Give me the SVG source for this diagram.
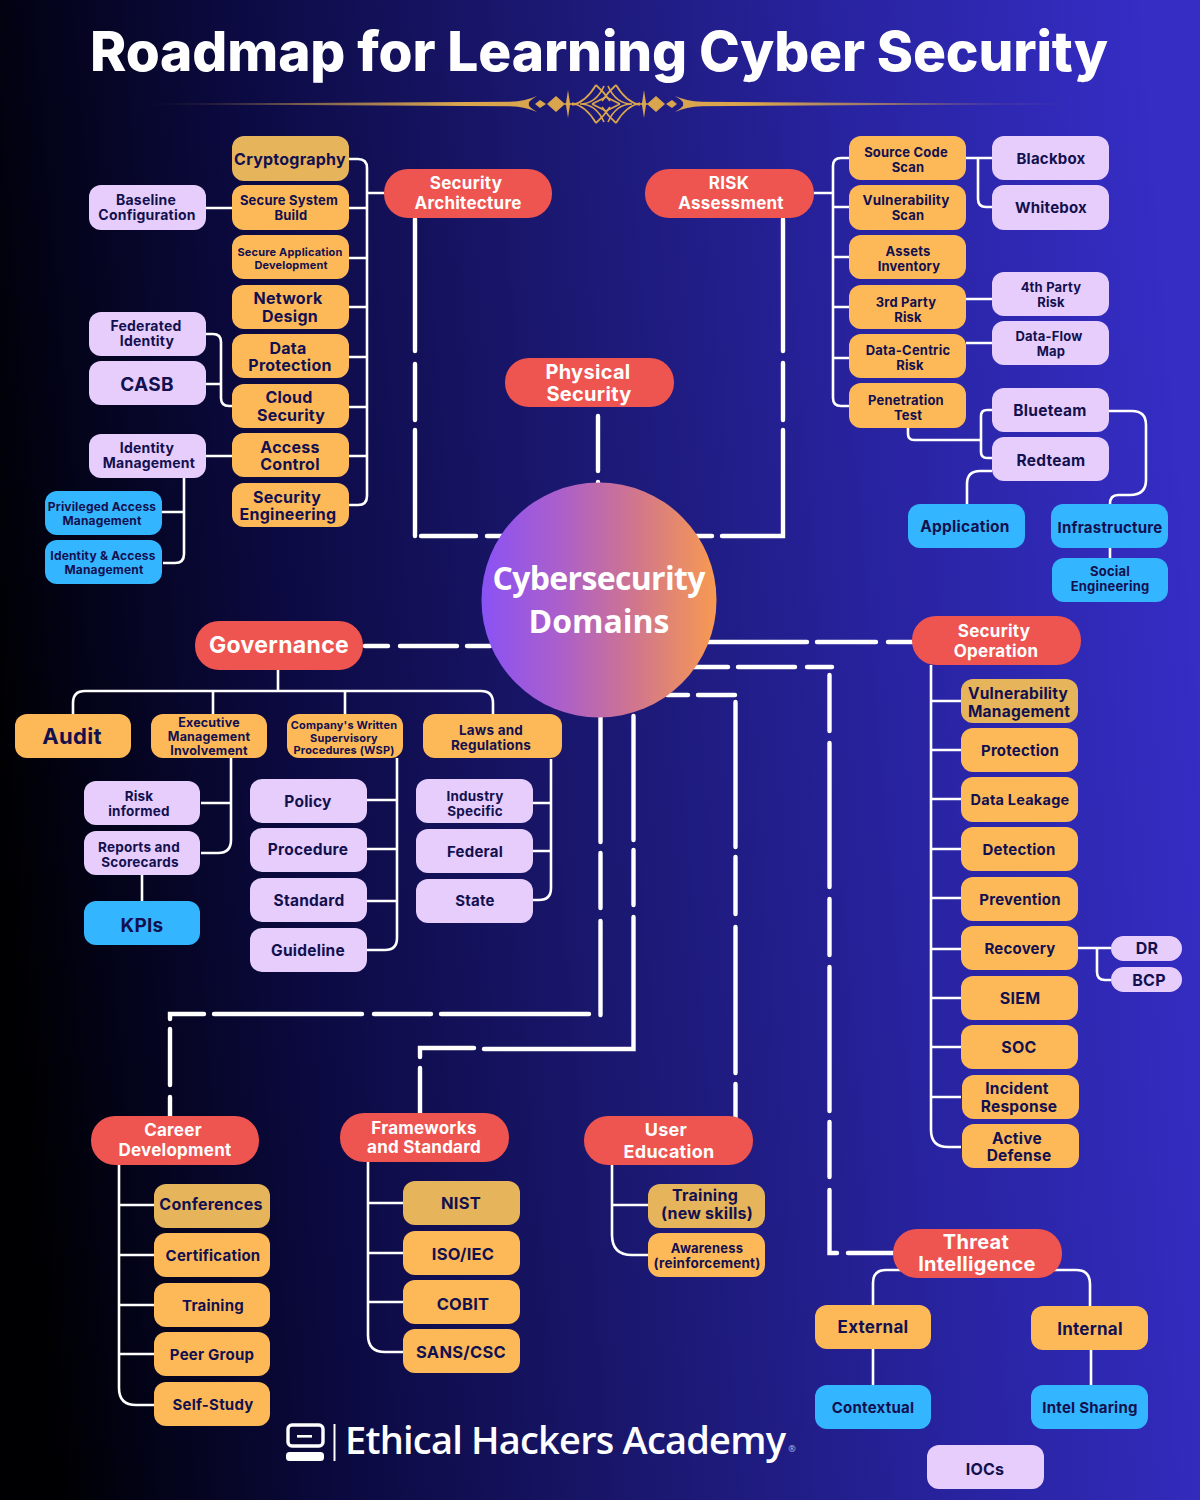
<svg xmlns="http://www.w3.org/2000/svg" xmlns:xlink="http://www.w3.org/1999/xlink" width="1200" height="1500" viewBox="0 0 1200 1500">
<style>
text{font-family:Inter,"Liberation Sans",sans-serif;font-weight:700;text-anchor:middle;fill:#13104f;letter-spacing:.015em}
.o{fill:#fdb958}.g{fill:#e6b45a}.l{fill:#e6cdfb}.b{fill:#33b5ff}.r{fill:#ee5450}
.t{fill:none;stroke:#fff;stroke-width:2.6;stroke-linejoin:round}
.d{fill:none;stroke:#fff;stroke-width:4.4;stroke-linecap:round;stroke-linejoin:miter}
.s11{font-size:11px}.s12{font-size:12px}.s125{font-size:12.5px}.s13{font-size:13px}.s135{font-size:13.5px}.s14{font-size:14px}.s145{font-size:14.5px}.s15{font-size:15px}.s155{font-size:15.5px}.s16{font-size:16px}.s165{font-size:16.5px}.s17{font-size:17px}.s18{font-size:18px}.s19{font-size:19px}.s20{font-size:20px}.s22{font-size:22px}.s23{font-size:23px}
.wh{fill:#fff}
.os{font-family:"Open Sans","Liberation Sans",sans-serif;font-weight:600;fill:#fff;letter-spacing:0}
</style>
<defs>
<linearGradient id="bg" gradientUnits="userSpaceOnUse" x1="0" y1="800" x2="1200" y2="700"><stop offset="0" stop-color="#000002"/><stop offset=".08" stop-color="#030318"/><stop offset=".25" stop-color="#0c0a42"/><stop offset=".5" stop-color="#1b1872"/><stop offset=".75" stop-color="#2823a0"/><stop offset="1" stop-color="#352dc4"/></linearGradient>
<linearGradient id="ball"><stop offset="0" stop-color="#8a52f5"/><stop offset=".35" stop-color="#ad60c8"/><stop offset=".65" stop-color="#d0758e"/><stop offset="1" stop-color="#f89a50"/></linearGradient>
<linearGradient id="gold" gradientUnits="userSpaceOnUse" x1="-476" y1="0" x2="-150" y2="0"><stop offset="0" stop-color="#d9a64e" stop-opacity="0"/><stop offset="1" stop-color="#d9a64e"/></linearGradient>
<g id="half">
<polygon points="-476,0 -92,-2.200 -86,0 -92,2.200" fill="url(#gold)"/>
<path d="M-96 -2 Q-80 -3 -69 -8 Q-79 -2 -77 0 Q-79 2 -69 8 Q-80 3 -96 2Z" fill="#d9a64e"/>
<polygon points="-71,0 -66,-4 -60,0 -66,4" fill="#d9a64e"/>
<polygon points="-59,0 -50,-8 -41,0 -50,8" fill="#d9a64e"/>
<polygon points="-38,-14 -36,-1 -30,0 -36,1 -38,14 -40,1 -43,0 -40,-1" fill="#d9a64e"/>
<path d="M-34 1 Q-20 -2 -10 -19 M-34 -1 Q-20 2 -10 19 M-26 0 Q-10 0 -2 -18 M-26 0 Q-10 0 -2 18 M-10 -19 Q-2 -12 4 -3 M-10 19 Q-2 12 4 3 M-14 0 L0 -7 M-14 0 L0 7" fill="none" stroke="#d9a64e" stroke-width="1.700"/>
</g>
</defs>
<rect width="1200" height="1500" fill="url(#bg)"/>
<text id="title" x="599" y="71" style="font-size:55px;font-weight:800;fill:#fff;letter-spacing:0" textLength="1018" lengthAdjust="spacing">Roadmap for Learning Cyber Security</text>
<g id="ornament"><use xlink:href="#half" transform="translate(606,104)"/><use xlink:href="#half" transform="translate(606,104) scale(-1,1)"/></g>

<g id="connectors">
<path class="d" d="M415 219V351M415 364V420M415 430V536M421 536H476M487 536H503"/>
<path class="d" d="M598 416V471M598 482V485"/>
<path class="d" d="M783 219V351M783 363V420M783 430V536H778M722 536H777M695 536H712"/>
<path class="d" d="M365 646H388M400 646H457M467 646H490"/>
<path class="d" d="M707 642H807M817 642H876M888 642H913"/>
<path class="d" d="M690 667H728M738 667H795M807 667H832M829.500 675V731M829.500 743V887M829.500 899V955M829.500 967V1111M829.500 1122V1177M829.500 1190V1253H837M848 1253H893"/>
<path class="d" d="M667 695H688M698 695H735M735.500 702V847M735.500 857V914M735.500 927V1073M735.500 1084V1125"/>
<path class="d" d="M600.500 717V842M600.500 853V908M600.500 921V1015M589 1014H441M431 1014H374M362 1014H214M204 1014H170V1019M170 1029V1085M170 1097V1116"/>
<path class="d" d="M633.500 716V840M633.500 850V905M633.500 917V1049H484M474 1048H420V1057M420 1068V1113"/>

<path class="t" d="M349 159H358Q367 159 367 168V496Q367 505 358 505H349M367 193H384M349 208H367M349 258H367M349 307H367M349 357H367M349 407H367M349 456H367"/>
<path class="t" d="M205 208H232M205 334H213Q221 334 221 342V398Q221 406 229 406H232M205 384H221M205 456H232"/>
<path class="t" d="M184 478V554Q184 563 175 563H163M162 512H184"/>
<path class="t" d="M814 193H833M849 158H841Q833 158 833 166V398Q833 406 841 406H849M833 207H849M833 257H849M833 307H849M833 358H849"/>
<path class="t" d="M966 158H992M978 158V199Q978 207 986 207H992M966 299H992M966 343H992"/>
<path class="t" d="M908 428V434Q908 440 914 440H981M992 410H987Q981 410 981 416V452Q981 458 987 458H992"/>
<path class="t" d="M1109 411H1132Q1146 411 1146 425V480Q1146 495 1130 495H1118Q1110 495 1110 504M992 471H980Q967 471 967 484V504M1110 548V558"/>
<path class="t" d="M931 665V1130Q931 1147 948 1147H961M931 701H961M931 750H961M931 799H961M931 849H961M931 898H961M931 949H961M931 998H961M931 1047H961M931 1097H961"/>
<path class="t" d="M1078 948H1111M1097 948V972Q1097 980 1105 980H1111"/>
<path class="t" d="M902 1270H886Q873 1270 873 1283V1305M1053 1270H1076Q1090 1270 1090 1284V1306M873 1349V1385M1091 1350V1385"/>
<path class="t" d="M278 670V691M73 714V703Q73 691 85 691H481Q493 691 493 703V714M213 691V714M345 691V714"/>
<path class="t" d="M231 758V840Q231 853 218 853H201M201 803H231M142 875V901"/>
<path class="t" d="M397 758V938Q397 950 385 950H367M367 800H397M367 849H397M367 901H397"/>
<path class="t" d="M551 759V888Q551 900 539 900H533M533 803H551M533 851H551"/>
<path class="t" d="M119 1165V1388Q119 1405 136 1405H154M119 1205H154M119 1255H154M119 1305H154M119 1354H154"/>
<path class="t" d="M368 1162V1335Q368 1352 385 1352H403M368 1203H403M368 1253H403M368 1302H403"/>
<path class="t" d="M612 1165V1235Q612 1255 632 1255H648M612 1205H648"/>
</g>

<g id="domains"><circle cx="599" cy="600" r="117.500" fill="url(#ball)"/><text class="os" x="599" y="590" style="font-size:32px;font-weight:700" textLength="213">Cybersecurity</text><text class="os" x="599" y="633" style="font-size:32px;font-weight:700">Domains</text></g>

<g id="security-architecture"><rect class="r" x="384" y="169" width="168" height="49" rx="24"/><text class="wh s17" x="466" y="189">Security</text><text class="wh s17" x="468" y="209">Architecture</text></g>
<g id="risk-assessment"><rect class="r" x="645" y="169" width="169" height="49" rx="24"/><text class="wh s17" x="729" y="189">RISK</text><text class="wh s17" x="731" y="209">Assessment</text></g>
<g id="physical-security"><rect class="r" x="505" y="358" width="169" height="49" rx="24"/><text class="wh s20" x="588" y="379">Physical</text><text class="wh s20" x="589" y="401">Security</text></g>
<g id="governance"><rect class="r" x="195" y="621" width="168" height="49" rx="24"/><text class="wh s23" x="279" y="653">Governance</text></g>
<g id="security-operation"><rect class="r" x="912" y="616" width="169" height="49" rx="24"/><text class="wh s17" x="994" y="637">Security</text><text class="wh s17" x="996" y="657">Operation</text></g>
<g id="threat-intelligence"><rect class="r" x="893" y="1229" width="169" height="49" rx="24"/><text class="wh s20" x="976" y="1249">Threat</text><text class="wh s20" x="977" y="1271">Intelligence</text></g>
<g id="career-development"><rect class="r" x="91" y="1116" width="168" height="49" rx="24"/><text class="wh s17" x="173" y="1136">Career</text><text class="wh s17" x="175" y="1156">Development</text></g>
<g id="frameworks"><rect class="r" x="340" y="1113" width="169" height="49" rx="24"/><text class="wh s17" x="424" y="1134">Frameworks</text><text class="wh s17" x="424" y="1153">and Standard</text></g>
<g id="user-education"><rect class="r" x="584" y="1116" width="169" height="49" rx="24"/><text class="wh s18" x="666" y="1136">User</text><text class="wh s18" x="669" y="1158">Education</text></g>

<g id="cryptography"><rect class="g" x="232" y="136" width="117" height="45" rx="12"/><text class="s16" x="290" y="165">Cryptography</text></g>
<g id="secure-system"><rect class="o" x="232" y="185" width="117" height="45" rx="12"/><text class="s13" x="289" y="205">Secure System</text><text class="s13" x="291" y="220">Build</text></g>
<g id="secure-app"><rect class="o" x="232" y="235" width="117" height="44" rx="12"/><text class="s11" x="290" y="256">Secure Application</text><text class="s11" x="291" y="269">Development</text></g>
<g id="network-design"><rect class="o" x="232" y="285" width="117" height="44" rx="12"/><text class="s16" x="288" y="304">Network</text><text class="s16" x="290" y="322">Design</text></g>
<g id="data-protection"><rect class="o" x="232" y="334" width="117" height="44" rx="12"/><text class="s16" x="288" y="354">Data</text><text class="s16" x="290" y="371">Protection</text></g>
<g id="cloud-security"><rect class="o" x="232" y="384" width="117" height="44" rx="12"/><text class="s16" x="289" y="403">Cloud</text><text class="s16" x="291" y="421">Security</text></g>
<g id="access-control"><rect class="o" x="232" y="433" width="117" height="44" rx="12"/><text class="s16" x="290" y="453">Access</text><text class="s16" x="290" y="470">Control</text></g>
<g id="security-engineering"><rect class="o" x="232" y="483" width="117" height="44" rx="12"/><text class="s16" x="287" y="503">Security</text><text class="s16" x="288" y="520">Engineering</text></g>
<g id="baseline"><rect class="l" x="89" y="185" width="117" height="45" rx="12"/><text class="s14" x="146" y="205">Baseline</text><text class="s14" x="147" y="220">Configuration</text></g>
<g id="federated"><rect class="l" x="89" y="312" width="117" height="44" rx="12"/><text class="s14" x="146" y="331">Federated</text><text class="s14" x="147" y="346">Identity</text></g>
<g id="casb"><rect class="l" x="89" y="361" width="117" height="44" rx="12"/><text class="s19" x="147" y="391">CASB</text></g>
<g id="identity-management"><rect class="l" x="89" y="434" width="117" height="44" rx="12"/><text class="s14" x="147" y="453">Identity</text><text class="s14" x="149" y="468">Management</text></g>
<g id="pam"><rect class="b" x="45" y="491" width="117" height="44" rx="12"/><text class="s12" x="102" y="511">Privileged Access</text><text class="s12" x="102" y="525">Management</text></g>
<g id="iam"><rect class="b" x="45" y="540" width="117" height="44" rx="12"/><text class="s12" x="103" y="560">Identity &amp; Access</text><text class="s12" x="104" y="574">Management</text></g>

<g id="source-code"><rect class="o" x="849" y="136" width="117" height="44" rx="12"/><text class="s13" x="906" y="157">Source Code</text><text class="s13" x="908" y="172">Scan</text></g>
<g id="vulnerability-scan"><rect class="o" x="849" y="185" width="117" height="45" rx="12"/><text class="s135" x="906" y="205">Vulnerability</text><text class="s13" x="908" y="220">Scan</text></g>
<g id="assets"><rect class="o" x="849" y="235" width="117" height="44" rx="12"/><text class="s13" x="908" y="256">Assets</text><text class="s13" x="909" y="271">Inventory</text></g>
<g id="third-party"><rect class="o" x="849" y="285" width="117" height="44" rx="12"/><text class="s13" x="906" y="307">3rd Party</text><text class="s13" x="908" y="322">Risk</text></g>
<g id="data-centric"><rect class="o" x="849" y="334" width="117" height="44" rx="12"/><text class="s13" x="908" y="355">Data-Centric</text><text class="s13" x="910" y="370">Risk</text></g>
<g id="penetration"><rect class="o" x="849" y="383" width="117" height="45" rx="12"/><text class="s13" x="906" y="405">Penetration</text><text class="s13" x="908" y="420">Test</text></g>
<g id="blackbox"><rect class="l" x="992" y="136" width="117" height="44" rx="12"/><text class="s15" x="1051" y="164">Blackbox</text></g>
<g id="whitebox"><rect class="l" x="992" y="185" width="117" height="45" rx="12"/><text class="s15" x="1051" y="213">Whitebox</text></g>
<g id="fourth-party"><rect class="l" x="992" y="272" width="117" height="44" rx="12"/><text class="s13" x="1051" y="292">4th Party</text><text class="s13" x="1051" y="307">Risk</text></g>
<g id="data-flow"><rect class="l" x="992" y="321" width="117" height="44" rx="12"/><text class="s13" x="1049" y="341">Data-Flow</text><text class="s13" x="1051" y="356">Map</text></g>
<g id="blueteam"><rect class="l" x="992" y="388" width="117" height="44" rx="12"/><text class="s155" x="1050" y="416">Blueteam</text></g>
<g id="redteam"><rect class="l" x="992" y="437" width="117" height="44" rx="12"/><text class="s155" x="1051" y="466">Redteam</text></g>
<g id="application"><rect class="b" x="908" y="504" width="117" height="44" rx="12"/><text class="s155" x="965" y="532">Application</text></g>
<g id="infrastructure"><rect class="b" x="1051" y="504" width="117" height="44" rx="12"/><text class="s15" x="1110" y="533">Infrastructure</text></g>
<g id="social-engineering"><rect class="b" x="1052" y="558" width="116" height="44" rx="12"/><text class="s13" x="1110" y="576">Social</text><text class="s13" x="1110" y="591">Engineering</text></g>

<g id="vuln-management"><rect class="g" x="961" y="679" width="117" height="44" rx="12"/><text class="s155" x="1018" y="699">Vulnerability</text><text class="s155" x="1019" y="717">Management</text></g>
<g id="protection"><rect class="o" x="961" y="728" width="117" height="44" rx="12"/><text class="s15" x="1020" y="756">Protection</text></g>
<g id="data-leakage"><rect class="o" x="961" y="777" width="117" height="45" rx="12"/><text class="s145" x="1020" y="805">Data Leakage</text></g>
<g id="detection"><rect class="o" x="961" y="827" width="117" height="44" rx="12"/><text class="s15" x="1019" y="855">Detection</text></g>
<g id="prevention"><rect class="o" x="961" y="877" width="117" height="44" rx="12"/><text class="s15" x="1020" y="905">Prevention</text></g>
<g id="recovery"><rect class="o" x="961" y="926" width="117" height="44" rx="12"/><text class="s15" x="1020" y="954">Recovery</text></g>
<g id="siem"><rect class="o" x="961" y="976" width="117" height="44" rx="12"/><text class="s16" x="1020" y="1004">SIEM</text></g>
<g id="soc"><rect class="o" x="961" y="1025" width="117" height="44" rx="12"/><text class="s16" x="1019" y="1053">SOC</text></g>
<g id="incident"><rect class="o" x="962" y="1075" width="117" height="44" rx="12"/><text class="s155" x="1017" y="1094">Incident</text><text class="s155" x="1019" y="1112">Response</text></g>
<g id="active"><rect class="o" x="962" y="1124" width="117" height="44" rx="12"/><text class="s155" x="1017" y="1144">Active</text><text class="s155" x="1019" y="1161">Defense</text></g>
<g id="dr"><rect class="l" x="1111" y="936" width="71" height="25" rx="12.500"/><text class="s16" x="1147" y="954">DR</text></g>
<g id="bcp"><rect class="l" x="1111" y="967" width="71" height="25" rx="12.500"/><text class="s16" x="1149" y="986">BCP</text></g>

<g id="external"><rect class="o" x="815" y="1305" width="116" height="44" rx="12"/><text class="s17" x="873" y="1333">External</text></g>
<g id="internal"><rect class="o" x="1031" y="1306" width="117" height="44" rx="12"/><text class="s17" x="1090" y="1335">Internal</text></g>
<g id="contextual"><rect class="b" x="815" y="1385" width="116" height="44" rx="12"/><text class="s15" x="873" y="1413">Contextual</text></g>
<g id="intel-sharing"><rect class="b" x="1031" y="1385" width="117" height="44" rx="12"/><text class="s15" x="1090" y="1413">Intel Sharing</text></g>
<g id="iocs"><rect class="l" x="927" y="1445" width="117" height="44" rx="12"/><text class="s16" x="985" y="1475">IOCs</text></g>

<g id="audit"><rect class="o" x="15" y="714" width="116" height="44" rx="12"/><text class="s22" x="72" y="744">Audit</text></g>
<g id="executive"><rect class="o" x="151" y="714" width="116" height="44" rx="12"/><text class="s125" x="209" y="727">Executive</text><text class="s125" x="209" y="741">Management</text><text class="s125" x="209" y="755">Involvement</text></g>
<g id="wsp"><rect class="o" x="287" y="714" width="116" height="44" rx="12"/><text class="s11" x="344" y="729">Company's Written</text><text class="s11" x="344" y="742">Supervisory</text><text class="s11" x="344" y="754">Procedures (WSP)</text></g>
<g id="laws"><rect class="o" x="423" y="714" width="139" height="44" rx="12"/><text class="s135" x="491" y="735">Laws and</text><text class="s135" x="491" y="750">Regulations</text></g>
<g id="risk-informed"><rect class="l" x="84" y="781" width="116" height="44" rx="12"/><text class="s135" x="139" y="801">Risk</text><text class="s135" x="139" y="816">informed</text></g>
<g id="reports"><rect class="l" x="84" y="831" width="116" height="44" rx="12"/><text class="s135" x="139" y="852">Reports and</text><text class="s135" x="140" y="867">Scorecards</text></g>
<g id="kpis"><rect class="b" x="84" y="901" width="116" height="44" rx="12"/><text class="s19" x="142" y="932">KPIs</text></g>
<g id="policy"><rect class="l" x="250" y="779" width="117" height="44" rx="12"/><text class="s155" x="308" y="807">Policy</text></g>
<g id="procedure"><rect class="l" x="250" y="828" width="117" height="44" rx="12"/><text class="s155" x="308" y="855">Procedure</text></g>
<g id="standard"><rect class="l" x="250" y="878" width="117" height="44" rx="12"/><text class="s155" x="309" y="906">Standard</text></g>
<g id="guideline"><rect class="l" x="250" y="928" width="117" height="44" rx="12"/><text class="s155" x="308" y="956">Guideline</text></g>
<g id="industry"><rect class="l" x="416" y="779" width="117" height="44" rx="12"/><text class="s135" x="475" y="801">Industry</text><text class="s135" x="475" y="816">Specific</text></g>
<g id="federal"><rect class="l" x="416" y="829" width="117" height="44" rx="12"/><text class="s15" x="475" y="857">Federal</text></g>
<g id="state"><rect class="l" x="416" y="879" width="117" height="44" rx="12"/><text class="s15" x="475" y="906">State</text></g>

<g id="conferences"><rect class="g" x="154" y="1184" width="116" height="44" rx="12"/><text class="s16" x="211" y="1210">Conferences</text></g>
<g id="certification"><rect class="o" x="154" y="1233" width="116" height="44" rx="12"/><text class="s15" x="213" y="1261">Certification</text></g>
<g id="training"><rect class="o" x="154" y="1283" width="116" height="44" rx="12"/><text class="s15" x="213" y="1311">Training</text></g>
<g id="peer-group"><rect class="o" x="154" y="1332" width="116" height="44" rx="12"/><text class="s15" x="212" y="1360">Peer Group</text></g>
<g id="self-study"><rect class="o" x="154" y="1382" width="116" height="44" rx="12"/><text class="s15" x="213" y="1410">Self-Study</text></g>
<g id="nist"><rect class="g" x="403" y="1181" width="117" height="44" rx="12"/><text class="s165" x="461" y="1209">NIST</text></g>
<g id="iso"><rect class="o" x="403" y="1231" width="117" height="44" rx="12"/><text class="s165" x="463" y="1260">ISO/IEC</text></g>
<g id="cobit"><rect class="o" x="403" y="1280" width="117" height="44" rx="12"/><text class="s165" x="463" y="1310">COBIT</text></g>
<g id="sans"><rect class="o" x="403" y="1329" width="117" height="44" rx="12"/><text class="s165" x="461" y="1358">SANS/CSC</text></g>
<g id="training-skills"><rect class="g" x="648" y="1184" width="117" height="44" rx="12"/><text class="s16" x="705" y="1201">Training</text><text class="s16" x="707" y="1219">(new skills)</text></g>
<g id="awareness"><rect class="o" x="648" y="1233" width="117" height="44" rx="12"/><text class="s13" x="707" y="1253">Awareness</text><text class="s135" x="707" y="1268">(reinforcement)</text></g>

<g id="brand">
<rect x="288" y="1425" width="35" height="21" rx="4" fill="none" stroke="#fff" stroke-width="3.400"/>
<rect x="297" y="1435" width="15" height="2.600" fill="#fff"/>
<rect x="286" y="1452" width="38" height="9" rx="3.500" fill="#fff"/>
<rect x="333.500" y="1424" width="2" height="37" fill="#fff"/>
<text class="os" x="345" y="1454" style="font-size:38px;text-anchor:start" textLength="441">Ethical Hackers Academy</text>
<text class="os" x="792" y="1452" style="font-size:9px;fill:#b9b6d8">®</text>
</g>
</svg>
